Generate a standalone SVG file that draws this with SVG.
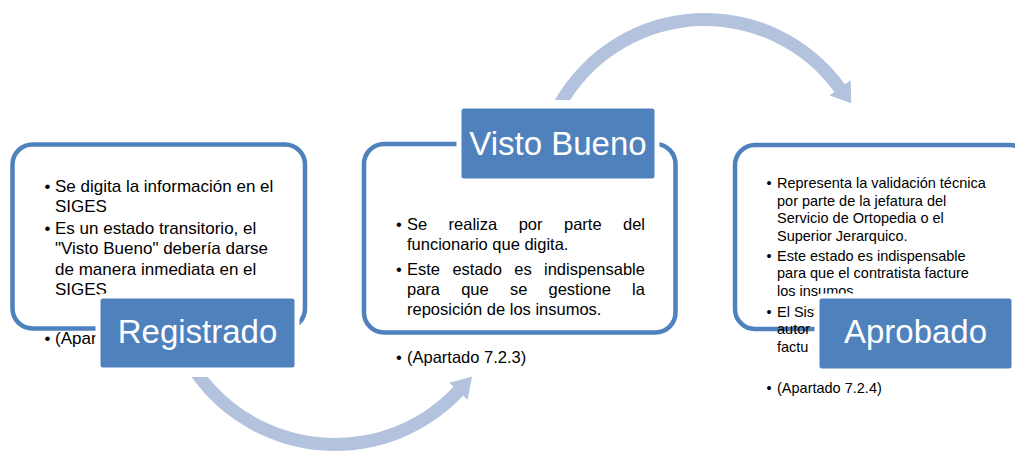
<svg xmlns="http://www.w3.org/2000/svg" width="1015" height="451" viewBox="0 0 1015 451">
  <style>
    .frame { fill: #ffffff; stroke: #4f81bd; stroke-width: 4.5; }
    .label { fill: #4f81bd; stroke: #ffffff; stroke-width: 5; }
    .ltxt { font-family: "Liberation Sans", Arial, sans-serif; font-size: 33px; fill: #ffffff; text-anchor: middle; }
    .t1 { font-family: "Liberation Sans", Arial, sans-serif; font-size: 17px; fill: #000000; }
    .t2 { font-family: "Liberation Sans", Arial, sans-serif; font-size: 16.5px; fill: #000000; }
    .t3 { font-family: "Liberation Sans", Arial, sans-serif; font-size: 14.5px; fill: #000000; }
    .bul { text-anchor: middle; }
    .arrow { fill: #b3c3de; stroke: none; }
  </style>

  <!-- Node 1 body -->
  <g id="registrado-body">
    <rect class="frame" x="12.5" y="144.5" width="292.5" height="184" rx="20" ry="20"/>
    <text class="t1 bul" x="47.5" y="191.5">•</text>
    <text class="t1" x="55" y="191.5">Se digita la información en el</text>
    <text class="t1" x="55" y="211.5">SIGES</text>
    <text class="t1 bul" x="47.5" y="233.5">•</text>
    <text class="t1" x="55" y="233.5">Es un estado transitorio, el</text>
    <text class="t1" x="55" y="254">"Visto Bueno" debería darse</text>
    <text class="t1" x="55" y="274.5">de manera inmediata en el</text>
    <text class="t1" x="55" y="295">SIGES</text>
    <text class="t1 bul" x="47.5" y="344">•</text>
    <text class="t1" x="55" y="344">(Apar</text>
  </g>

  <!-- Node 2 body -->
  <g id="visto-bueno-body">
    <rect class="frame" x="364" y="144" width="311.5" height="188.5" rx="20" ry="20"/>
    <text class="t2 bul" x="399" y="230">•</text>
    <text class="t2" y="230"><tspan x="407">Se</tspan><tspan x="448.6">realiza</tspan><tspan x="518.7">por</tspan><tspan x="564">parte</tspan><tspan x="623">del</tspan></text>
    <text class="t2" x="407" y="250">funcionario que digita.</text>
    <text class="t2 bul" x="399" y="275">•</text>
    <text class="t2" y="275"><tspan x="407">Este</tspan><tspan x="452.4">estado</tspan><tspan x="514.3">es</tspan><tspan x="544">indispensable</tspan></text>
    <text class="t2" y="295"><tspan x="407">para</tspan><tspan x="461.2">que</tspan><tspan x="509.9">se</tspan><tspan x="548.5">gestione</tspan><tspan x="632.1">la</tspan></text>
    <text class="t2" x="407" y="315">reposición de los insumos.</text>
    <text class="t2 bul" x="399" y="363">•</text>
    <text class="t2" x="407" y="363">(Apartado 7.2.3)</text>
  </g>

  <!-- Node 3 body -->
  <g id="aprobado-body">
    <rect class="frame" x="735" y="145" width="295" height="184" rx="20" ry="20"/>
    <text class="t3 bul" x="769" y="188">•</text>
    <text class="t3" x="777" y="188">Representa la validación técnica</text>
    <text class="t3" x="777" y="205.5">por parte de la jefatura del</text>
    <text class="t3" x="777" y="223">Servicio de Ortopedia o el</text>
    <text class="t3" x="777" y="240.7">Superior Jerarquico.</text>
    <text class="t3 bul" x="769" y="260.7">•</text>
    <text class="t3" x="777" y="260.7">Este estado es indispensable</text>
    <text class="t3" x="777" y="278">para que el contratista facture</text>
    <text class="t3" x="777" y="295.7">los insumos.</text>
    <text class="t3 bul" x="769" y="316.7">•</text>
    <text class="t3" x="777" y="316.7">El Sist</text>
    <text class="t3" x="777" y="334">autor</text>
    <text class="t3" x="777" y="351.7">factu</text>
    <text class="t3 bul" x="769" y="392.7">•</text>
    <text class="t3" x="777" y="392.7">(Apartado 7.2.4)</text>
  </g>

  <!-- Connectors -->
  <g id="connectors">
    <path class="arrow" d="M191.6,377 A176,176 0 0 0 463.1,395.7 L467.5,399.8 L472.1,376.6 L449.3,382.7 L453.6,386.8 A163,163 0 0 1 207.9,377 Z"/>
    <path class="arrow" d="M554.9,100 A173,173 0 0 1 845.0,84.3 L850.6,80.2 L851.3,103.2 L829.6,95.5 L834.4,91.95 A160,160 0 0 0 570.1,100 Z"/>
  </g>

  <!-- Labels -->
  <g id="registrado">
    <rect class="label" x="98" y="296" width="199" height="74" rx="5" ry="5"/>
    <text class="ltxt" x="197.5" y="343.3">Registrado</text>
  </g>
  <g id="visto-bueno">
    <rect class="label" x="459" y="106" width="198" height="75" rx="5" ry="5"/>
    <text class="ltxt" x="558" y="155">Visto Bueno</text>
  </g>
  <g id="aprobado">
    <rect class="label" x="817" y="296" width="197" height="75" rx="5" ry="5"/>
    <text class="ltxt" x="915.5" y="343">Aprobado</text>
  </g>
</svg>
